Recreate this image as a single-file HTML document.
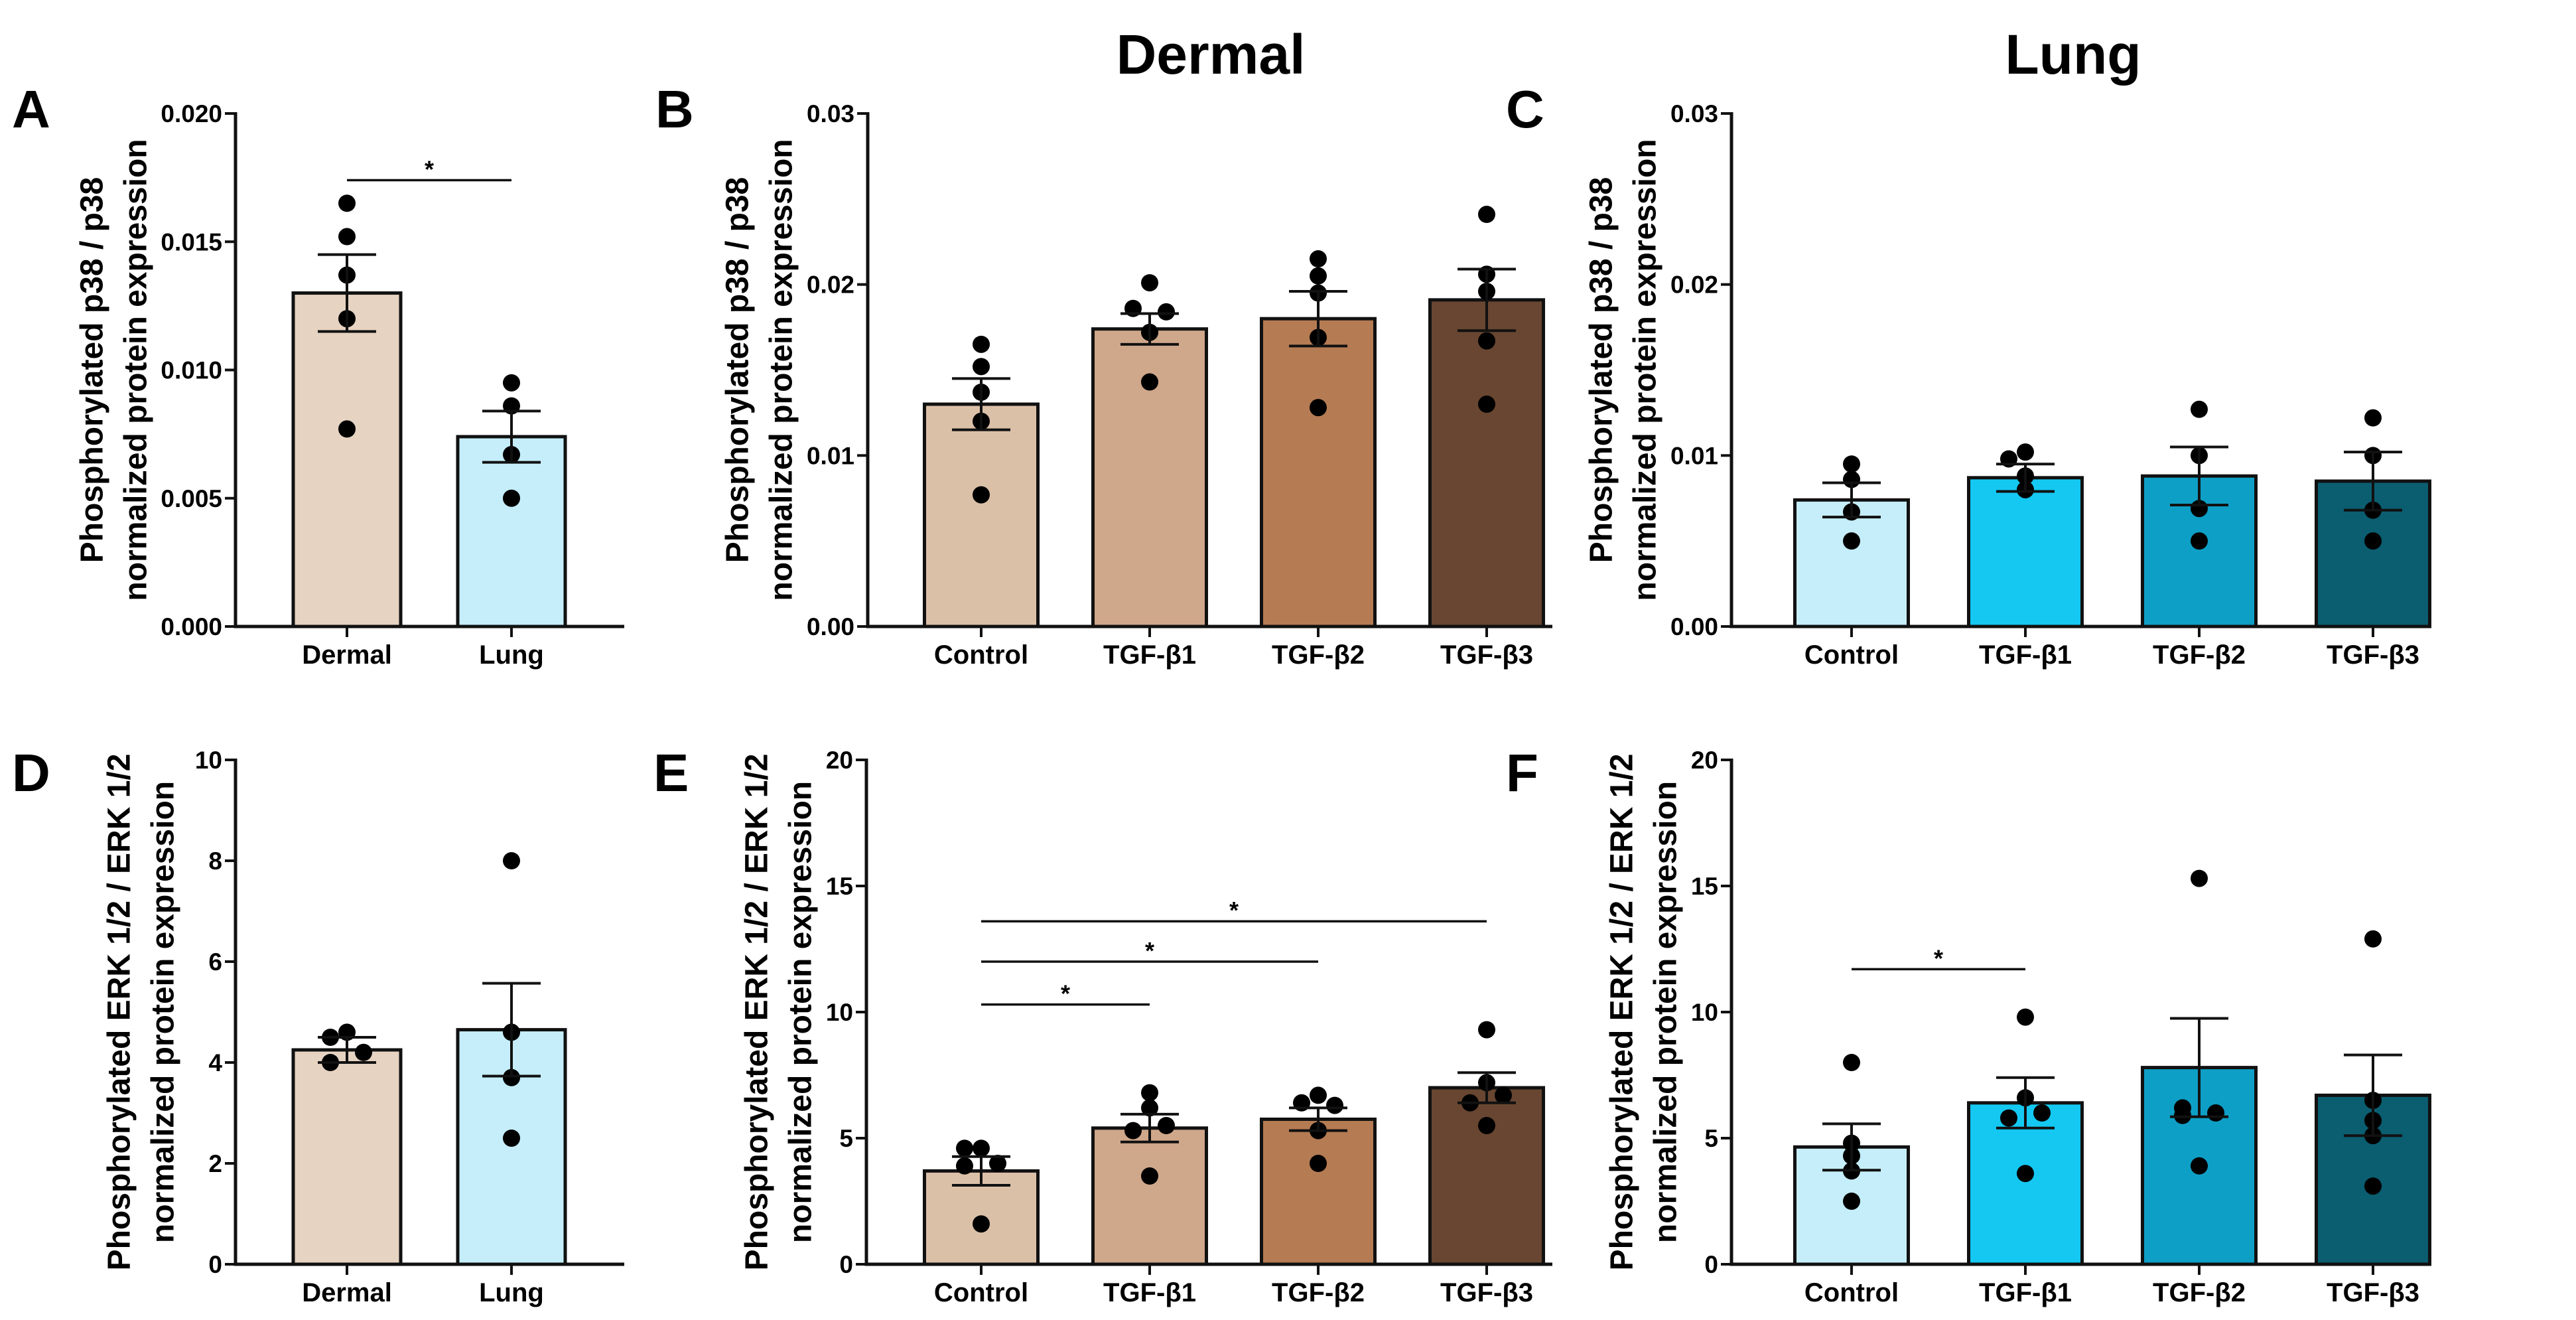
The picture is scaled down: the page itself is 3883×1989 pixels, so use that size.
<!DOCTYPE html>
<html><head><meta charset="utf-8"><style>
html,body{margin:0;padding:0;background:#fff;}
svg{display:block;font-family:"Liberation Sans",Arial,sans-serif;font-weight:bold;}
</style></head><body>
<svg id="fig" width="3883" height="1989" viewBox="0 0 3883 1989" xmlns="http://www.w3.org/2000/svg">
<text x="1825" y="111" font-size="84" text-anchor="middle">Dermal</text>
<text x="3125" y="111" font-size="84" text-anchor="middle">Lung</text>
</svg>
<script>
// ---- data ----
const catsAD = ["Dermal","Lung"];
const catsTGF = ["Control","TGF-β1","TGF-β2","TGF-β3"];
const ticksP38A = [0,0.005,0.010,0.015,0.020];
const tickLabP38A = ["0.000","0.005","0.010","0.015","0.020"];
const ticksP38 = [0,0.01,0.02,0.03];
const tickLabP38 = ["0.00","0.01","0.02","0.03"];
const ticksD = [0,2,4,6,8,10];
const ticksEF = [0,5,10,15,20];
const meanA = [0.0130,0.0074];
const semA = [0.0015,0.0010];
const ptsA = [[0.0165,0.0152,0.0137,0.0120,0.0077],[0.0095,0.0086,0.0067,0.0050]];
const meanB = [0.0130,0.0174,0.0180,0.0191];
const semB = [0.0015,0.0009,0.0016,0.0018];
const ptsB = [[0.0165,0.0152,0.0137,0.0120,0.0077],[0.0201,0.0186,0.0184,0.0172,0.0143],[0.0215,0.0205,0.0195,0.0169,0.0128],[0.0241,0.0206,0.0196,0.0167,0.0130]];
const meanC = [0.0074,0.0087,0.0088,0.0085];
const semC = [0.0010,0.0008,0.0017,0.0017];
const ptsC = [[0.0095,0.0086,0.0067,0.0050],[0.0102,0.0098,0.0088,0.0080],[0.0127,0.0100,0.0069,0.0050],[0.0122,0.0100,0.0068,0.0050]];
const meanD = [4.25,4.65];
const semD = [0.25,0.92];
const ptsD = [[4.6,4.5,4.2,4.0],[8.0,4.6,3.7,2.5]];
const meanE = [3.7,5.4,5.75,7.0];
const semE = [0.57,0.55,0.45,0.6];
const ptsE = [[4.6,4.6,4.0,3.9,1.6],[6.8,6.2,5.5,5.3,3.5],[6.7,6.4,6.3,5.3,4.0],[9.3,7.2,6.7,6.4,5.5]];
const meanF = [4.65,6.4,7.8,6.7];
const semF = [0.92,1.0,1.95,1.6];
const ptsF = [[8.0,4.8,4.3,3.7,2.5],[9.8,6.6,6.0,5.8,3.6],[15.3,6.2,6.0,5.9,3.9],[12.9,6.5,5.7,5.1,3.1]];
const sigA = [[0,1,0.0174]];
const sigE = [[0,1,10.3],[0,2,12.0],[0,3,13.6]];
const sigF = [[0,1,11.7]];

const NS="http://www.w3.org/2000/svg";
const svg=document.getElementById('fig');
function mk(tag,attrs,parent){const e=document.createElementNS(NS,tag);for(const k in attrs)e.setAttribute(k,attrs[k]);(parent||svg).appendChild(e);return e;}
const jitDx=[0,-25,25,-25,25];

function panel(o){
  const g=mk('g',{});
  
  
  const ymax=o.ticks[o.ticks.length-1];
  const Y=v=>o.y0-(v/ymax)*(o.y0-o.y1);
  const X=i=>o.c0+i*o.step;
  const L=mk('text',{x:o.lx,y:o.ly,'font-size':80},g);L.textContent=o.id;
  
  
  const yl=mk('text',{transform:`translate(${o.ax+o.yo1},${(o.y0+o.y1)/2}) rotate(-90)`,'font-size':48,'text-anchor':'middle','dominant-baseline':'central'},g);
  yl.textContent=o.yl1;
  
  
  const yl2=mk('text',{transform:`translate(${o.ax+o.yo2},${(o.y0+o.y1)/2}) rotate(-90)`,'font-size':48,'text-anchor':'middle','dominant-baseline':'central'},g);
  yl2.textContent="normalized protein expression";
  
  
  o.means.forEach((m,i)=>{
    const r=mk('rect',{x:X(i)-o.bw/2,y:Y(m),width:o.bw,height:o.y0-Y(m),fill:o.colors[i],stroke:'#111','stroke-width':5},g);
    
    
  });
  o.pts.forEach((arr,i)=>{
    arr.forEach((v,j)=>{
      let dx=0;
      const near=arr.filter((w,k)=>k!==j&&Math.abs(w-v)<ymax*0.025).length;
      if(near>0) dx=jitDx[j%5];
      const c=mk('circle',{cx:X(i)+dx,cy:Y(v),r:13,fill:'#000'},g);
      
      
    });
  });
  o.means.forEach((m,i)=>{
    const x=X(i);
    const e=mk('path',{d:`M${x} ${Y(m-o.sem[i])}V${Y(m+o.sem[i])}M${x-44} ${Y(m+o.sem[i])}H${x+44}M${x-44} ${Y(m-o.sem[i])}H${x+44}`,stroke:'#111','stroke-width':4,fill:'none'},g);
    
    
  });
  const ax=mk('path',{d:`M${o.ax} ${o.y1-2}V${o.y0}H${o.xe}`,stroke:'#111','stroke-width':5,fill:'none'},g);
  
  
  o.ticks.forEach((t,i)=>{
    mk('line',{x1:o.ax-16,x2:o.ax,y1:Y(t),y2:Y(t),stroke:'#111','stroke-width':4},g);
    const tl=mk('text',{x:o.ax-20,y:Y(t)+13,'font-size':37,'text-anchor':'end'},g);
    tl.textContent=o.tlab?o.tlab[i]:String(t);
    
    
  });
  o.cats.forEach((c,i)=>{
    mk('line',{x1:X(i),x2:X(i),y1:o.y0,y2:o.y0+16,stroke:'#111','stroke-width':4},g);
    const t=mk('text',{x:X(i),y:o.y0+56,'font-size':40,'text-anchor':'middle'},g);
    t.textContent=c;
    
    
  });
  (o.sig||[]).forEach(s=>{
    const l=mk('line',{x1:X(s[0]),x2:X(s[1]),y1:Y(s[2]),y2:Y(s[2]),stroke:'#111','stroke-width':3.5},g);
    
    
    const st=mk('text',{x:(X(s[0])+X(s[1]))/2,y:Y(s[2])-4,'font-size':36,'text-anchor':'middle'},g);
    st.textContent='*';
    
    
  });
}
const dermC=['#dbc0a8','#cfa78a','#b57b53','#684631'];
const lungC=['#c5eefa','#14c8f2','#0e9fc6','#0b5d70'];
const p38="Phosphorylated p38 / p38", erk="Phosphorylated ERK 1/2 / ERK 1/2";
const topRow={y0:944,y1:171}, botRow={y0:1905,y1:1145};
panel({id:'A',lx:18,ly:192,ax:355,xe:941,c0:523,step:248,bw:162,cats:catsAD,ticks:ticksP38A,tlab:tickLabP38A,means:meanA,sem:semA,pts:ptsA,colors:['#e6d3c2','#c5eefa'],sig:sigA,yl1:p38,yo1:-216,yo2:-150,...topRow});
panel({id:'B',lx:988,ly:192,ax:1308,xe:2340,c0:1479,step:254,bw:171,cats:catsTGF,ticks:ticksP38,tlab:tickLabP38,means:meanB,sem:semB,pts:ptsB,colors:dermC,yl1:p38,yo1:-196,yo2:-130,...topRow});
panel({id:'C',lx:2270,ly:192,ax:2610,xe:3665,c0:2791,step:262,bw:171,cats:catsTGF,ticks:ticksP38,tlab:tickLabP38,means:meanC,sem:semC,pts:ptsC,colors:lungC,yl1:p38,yo1:-196,yo2:-130,...topRow});
panel({id:'D',lx:18,ly:1192,ax:355,xe:941,c0:523,step:248,bw:162,cats:catsAD,ticks:ticksD,means:meanD,sem:semD,pts:ptsD,colors:['#e6d3c2','#c5eefa'],yl1:erk,yo1:-175,yo2:-109,...botRow});
panel({id:'E',lx:985,ly:1192,ax:1306,xe:2340,c0:1479,step:254,bw:171,cats:catsTGF,ticks:ticksEF,means:meanE,sem:semE,pts:ptsE,colors:dermC,sig:sigE,yl1:erk,yo1:-165,yo2:-99,...botRow});
panel({id:'F',lx:2270,ly:1192,ax:2610,xe:3665,c0:2791,step:262,bw:171,cats:catsTGF,ticks:ticksEF,means:meanF,sem:semF,pts:ptsF,colors:lungC,sig:sigF,yl1:erk,yo1:-165,yo2:-99,...botRow});
</script>
</body></html>
